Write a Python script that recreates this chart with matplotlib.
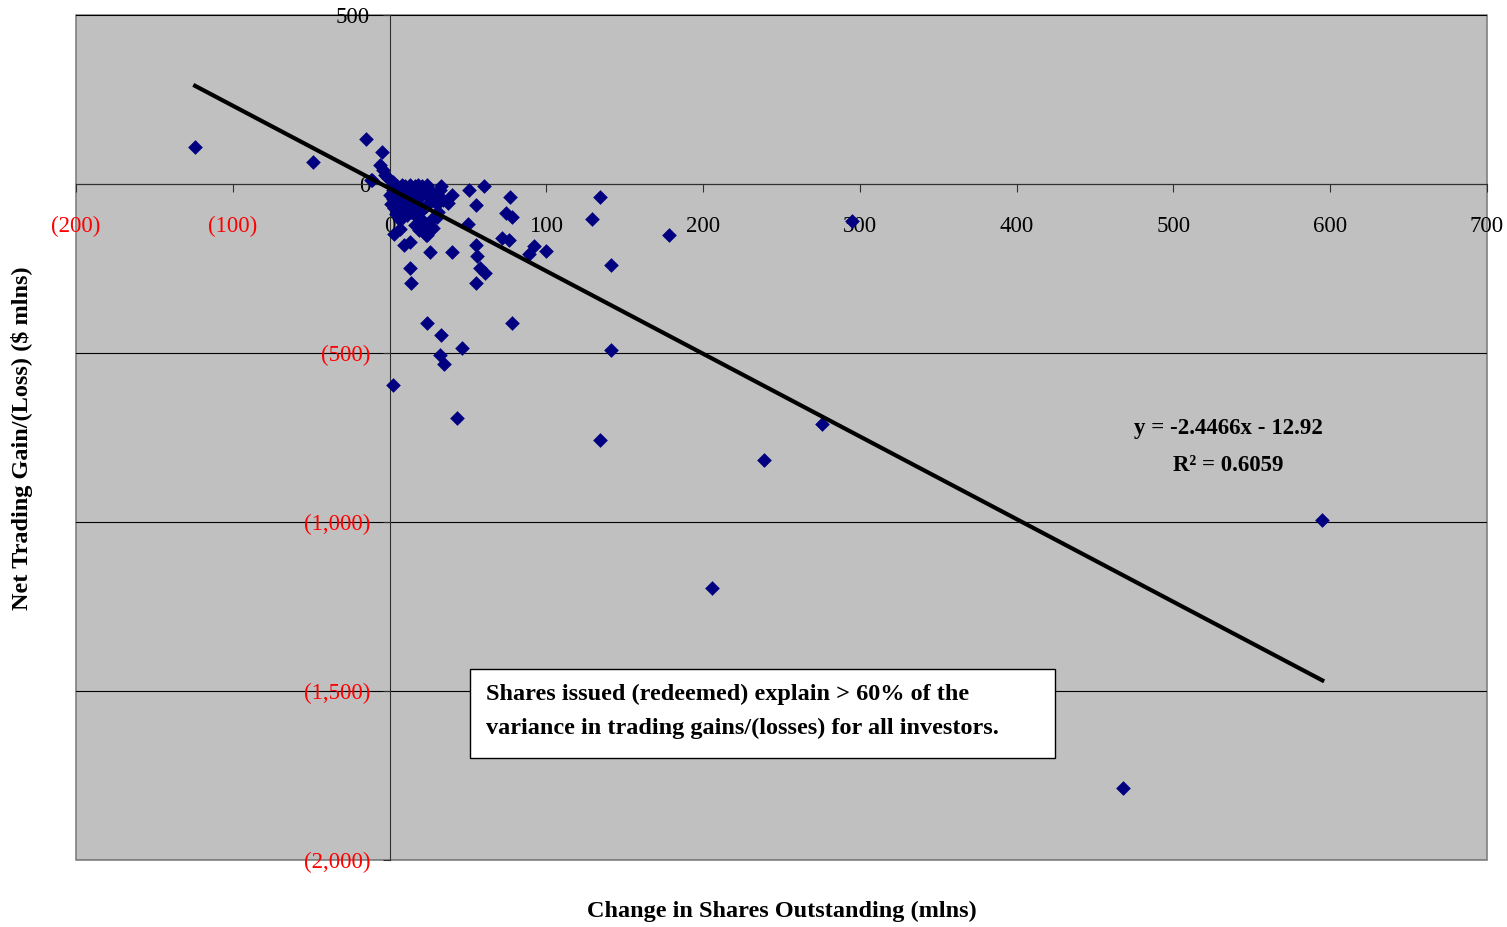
import numpy as np
import matplotlib.pyplot as plt
from matplotlib.patches import Rectangle

plt.rcParams['font.family'] = ['Liberation Serif', 'DejaVu Serif']

# change in shares outstanding (mlns) vs net trading gain/(loss) ($ mlns)
outlier_x = [-124, -49, -15, -5, -12, 595, 468, 206, 239, 276, 134, 43, 2, 46, 32, 35,
             33, 24, 78, 141, 141, 178, 295, 134, 129, 100, 92, 89, 77, 78, 74, 76, 72,
             60, 55, 51, 55, 56, 58, 61, 55, 50, 40, 40, 26, 33, 34, 13, 14, 9, 13, 3, 7,
             30, 28, 24]
outlier_y = [109, 65, 133, 95, 12, -994, -1787, -1195, -817, -710, -757, -692, -595, -485,
             -506, -533, -447, -411, -411, -491, -240, -151, -109, -38, -104, -198, -183,
             -207, -38, -98, -86, -166, -160, -6, -62, -18, -180, -213, -249, -263, -293,
             -118, -33, -201, -201, -6, -47, -249, -293, -180, -172, -148, -133, -97, -130,
             -151]

cluster_x = [-6, -4, -3, -11, -1, 2, 3, 5, 8, 10, 13, 16, 18, 21, 24, 2, 4, 7, 9, 12, 14,
             17, 19, 22, 25, 26, 2, 5, 8, 10, 13, 16, 18, 21, 23, 27, 30, 3, 5, 8, 11, 14,
             18, 22, 25, 28, 31, 32, 30, 37, 16, 19, 23, 7, 4, 0, 1]
cluster_y = [56, 41, 27, 12, 18, 6, -3, -6, -3, -6, -3, -6, -3, -6, -3, -18, -27, -18, -30,
             -24, -36, -30, -41, -24, -38, -18, -44, -56, -47, -62, -53, -68, -59, -77, -65,
             -47, -59, -71, -83, -74, -92, -83, -101, -112, -124, -101, -83, -18, -33, -56,
             -121, -136, -151, -107, -89, -33, -59]

slope = -2.4466
intercept = -12.92
r_squared = 0.6059

xticks = [-200, -100, 0, 100, 200, 300, 400, 500, 600, 700]
yticks = [500, 0, -500, -1000, -1500, -2000]


def fmt(v):
    if v < 0:
        return "({:,})".format(-v)
    return "{:,}".format(v)


x = np.array(outlier_x + cluster_x)
y = np.array(outlier_y + cluster_y)

fig = plt.figure(figsize=(15.07, 9.27), dpi=100)
ax = fig.add_axes([0.0504, 0.0723, 0.9363, 0.9115])
ax.set_facecolor('#C0C0C0')
ax.patch.set_edgecolor('#808080')
ax.patch.set_linewidth(1.2)

ax.set_xlim(-200, 700)
ax.set_ylim(-2000, 500)

for v in yticks:
    ax.axhline(v, color='black', lw=0.8, zorder=1)

for s in ['top', 'right']:
    ax.spines[s].set_visible(False)
ax.spines['left'].set_position(('data', 0))
ax.spines['bottom'].set_position(('data', 0))
ax.spines['left'].set_color('#303030')
ax.spines['bottom'].set_color('#303030')

ax.set_xticks(xticks, labels=[fmt(v) for v in xticks])
ax.set_yticks(yticks, labels=[fmt(v) for v in yticks])
ax.tick_params(axis='x', direction='out', length=6, pad=17, labelsize=16.5, color='#303030')
ax.tick_params(axis='y', direction='out', length=5, pad=9, labelsize=16.5, color='#303030')
for lab in ax.get_xticklabels() + ax.get_yticklabels():
    if lab.get_text().startswith('('):
        lab.set_color('red')

ax.scatter(x, y, marker='D', s=56, color='#000080', zorder=3, linewidths=0)

xl = np.array([x.min(), x.max()])
ax.plot(xl, slope * xl + intercept, color='black', lw=3, zorder=4)

ax.text(0.817, 0.511, "y = {}x - {}".format(slope, -intercept), transform=ax.transAxes,
        ha='center', va='center', fontsize=16.5, fontweight='bold')
ax.text(0.817, 0.467, "R\u00b2 = {}".format(r_squared), transform=ax.transAxes,
        ha='center', va='center', fontsize=16.5, fontweight='bold')

ax.add_patch(Rectangle((0.279, 0.121), 0.415, 0.105, transform=ax.transAxes,
                       facecolor='white', edgecolor='black', lw=1, zorder=5))
ax.text(0.2906, 0.196, "Shares issued (redeemed) explain > 60% of the",
        transform=ax.transAxes, ha='left', va='center', fontsize=17.5, fontweight='bold', zorder=6)
ax.text(0.2906, 0.156, "variance in trading gains/(losses) for all investors.",
        transform=ax.transAxes, ha='left', va='center', fontsize=17.5, fontweight='bold', zorder=6)

fig.text(782 / 1507, 1 - 911 / 927, "Change in Shares Outstanding (mlns)", ha='center',
         va='center', fontsize=17.5, fontweight='bold')
fig.text(22 / 1507, 1 - 438 / 927, "Net Trading Gain/(Loss) (\\$ mlns)", ha='center',
         va='center', rotation=90, fontsize=17.5, fontweight='bold')

fig.savefig('out.png', dpi=100)
